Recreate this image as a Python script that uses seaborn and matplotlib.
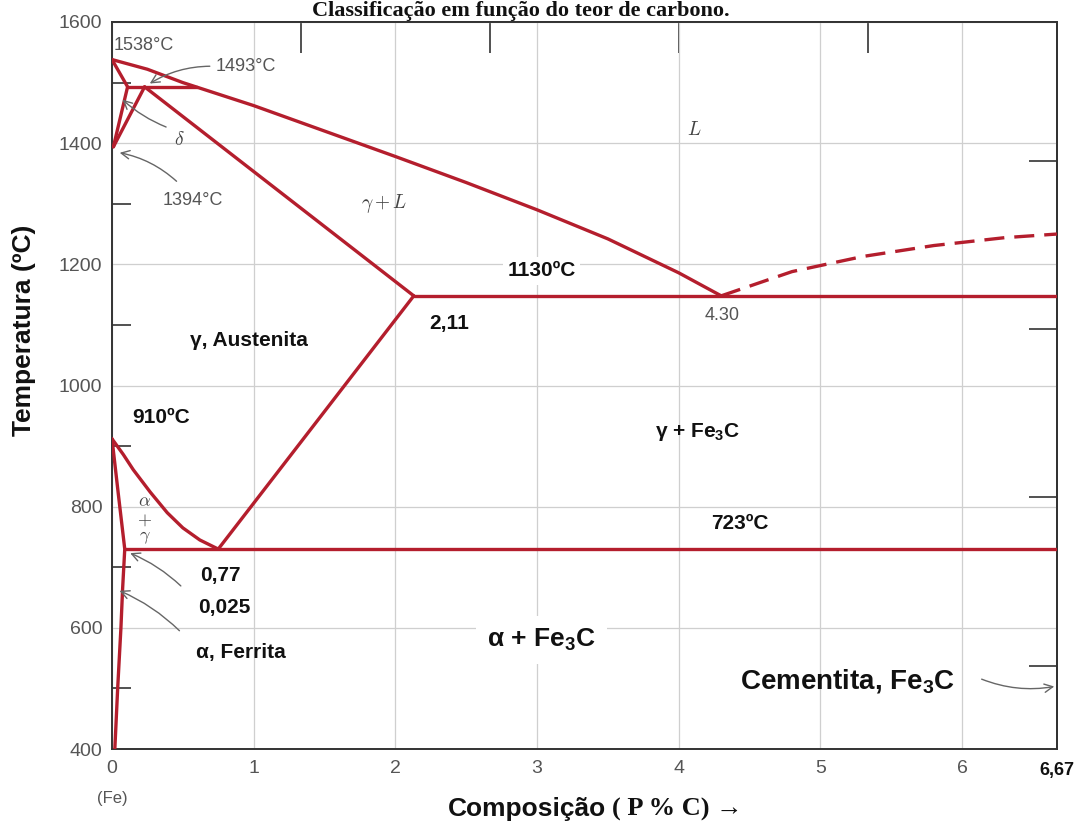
import numpy as np
import pandas as pd
import matplotlib
matplotlib.use('Agg')
import matplotlib.pyplot as plt
import seaborn as sns
from matplotlib.ticker import MultipleLocator
from matplotlib.transforms import blended_transform_factory

# linhas do diagrama Fe-C (% C em peso, temperatura ºC)
liquidus_x = [0.0, 0.25, 0.5, 1.0, 1.5, 2.0, 2.5, 3.0, 3.5, 4.0, 4.30]
liquidus_t = [1538, 1522, 1500, 1462, 1420, 1378, 1335, 1290, 1242, 1186, 1148]
delta_x = [0.0, 0.11, 0.01]
delta_t = [1538, 1493, 1394]
gama_delta_x = [0.23, 0.01]
gama_delta_t = [1493, 1394]
peritetica_x = [0.11, 0.60]
peritetica_t = [1493, 1493]
solidus_x = [0.23, 2.13]
solidus_t = [1493, 1148]
eutetica_x = [2.13, 6.67]
eutetica_t = [1148, 1148]
cementita_liq_x = [4.30, 4.8, 5.3, 5.8, 6.3, 6.67]
cementita_liq_t = [1148, 1188, 1213, 1231, 1244, 1250]
acm_x = [2.13, 0.75]
acm_t = [1148, 730]
a3_x = [0.0, 0.08, 0.15, 0.27, 0.39, 0.5, 0.62, 0.75]
a3_t = [912, 886, 861, 824, 790, 765, 745, 730]
eutetoide_x = [0.09, 6.67]
eutetoide_t = [730, 730]
ferrita_x = [0.0, 0.045, 0.09, 0.075, 0.063, 0.04, 0.02]
ferrita_t = [912, 820, 730, 665, 600, 500, 400]

x_ticks = [0, 1, 2, 3, 4, 5, 6]
y_ticks = [400, 600, 800, 1000, 1200, 1400, 1600]
fe3c_ticks = [20, 40, 60, 80]          # % Fe3C (eixo superior)
fahr_ticks = [1000, 1500, 2000, 2500]  # ºF (eixo direito)

vermelho = '#b41e2d'
cinza = '#555555'

sns.set_theme(style='white')
plt.rcParams['font.family'] = ['Liberation Sans', 'DejaVu Sans']
plt.rcParams['mathtext.fontset'] = 'custom'
plt.rcParams['mathtext.rm'] = 'Liberation Sans'
plt.rcParams['mathtext.bf'] = 'Liberation Sans:bold'

fig = plt.figure(figsize=(10.88, 8.23), dpi=100)
fig.patch.set_facecolor('white')
ax = fig.add_axes([112/1088, 74/823, 945/1088, 727/823])

curvas = [(liquidus_x, liquidus_t), (delta_x, delta_t), (gama_delta_x, gama_delta_t),
          (peritetica_x, peritetica_t), (solidus_x, solidus_t), (eutetica_x, eutetica_t),
          (acm_x, acm_t), (a3_x, a3_t), (eutetoide_x, eutetoide_t), (ferrita_x, ferrita_t)]
for cx, ct in curvas:
    sns.lineplot(x=cx, y=ct, ax=ax, color=vermelho, lw=2.4, sort=False, estimator=None, zorder=5)
sns.lineplot(x=cementita_liq_x, y=cementita_liq_t, ax=ax, color=vermelho, lw=2.4, sort=False,
             estimator=None, zorder=5, dashes=False, linestyle=(0, (6, 3)))

ax.set_xlim(0, 6.67)
ax.set_ylim(400, 1600)
ax.set_xticks(x_ticks)
ax.set_yticks(y_ticks)
ax.yaxis.set_minor_locator(MultipleLocator(100))
ax.grid(True, which='major', color='#cfcfcf', lw=0.9, zorder=0)
ax.tick_params(axis='both', which='major', direction='in', length=22, width=1.1, color='#222',
               labelcolor=cinza, labelsize=14)
ax.tick_params(axis='y', which='major', pad=7)
ax.tick_params(axis='x', which='major', pad=8)
ax.tick_params(axis='y', which='minor', direction='in', length=14, width=1.1, color='#222', left=True)
for s in ax.spines.values():
    s.set_color('#333333')
    s.set_linewidth(1.4)

sec_top = ax.secondary_xaxis('top', functions=(lambda x: x * 100 / 6.67, lambda p: p * 6.67 / 100))
sec_top.set_xticks(fe3c_ticks)
sec_top.set_xticklabels([])
sec_top.tick_params(direction='in', length=22, width=1.1, color='#222')
sec_right = ax.secondary_yaxis('right', functions=(lambda c: c * 9 / 5 + 32, lambda f: (f - 32) * 5 / 9))
sec_right.set_yticks(fahr_ticks)
sec_right.set_yticklabels([])
sec_right.tick_params(direction='in', length=20, width=1.1, color='#222')

ax.set_xlabel('')
ax.set_ylabel('Temperatura (ºC)', fontsize=19, fontweight='bold', color='#111')
ax.yaxis.set_label_coords(-0.093, 0.576)
ax.yaxis.label.set_va('center')

trans = blended_transform_factory(ax.transData, ax.transAxes)
ax.text(0, -0.058, '(Fe)', transform=trans, ha='center', va='top', fontsize=12, color=cinza)
ax.text(6.67, -0.018, '6,67', transform=trans, ha='center', va='top', fontsize=13,
        fontweight='bold', color='#111')

fig.text(448/1088, 1 - 816/823, 'Composição', fontsize=19, fontweight='bold', color='#111',
         va='baseline', ha='left')
fig.text(612/1088, 1 - 816/823, '( P % C) →', fontsize=19, fontweight='bold', color='#111',
         va='baseline', ha='left', family=['Liberation Serif', 'DejaVu Serif'])
fig.text(521/1088, 1 - 16/823, 'Classificação em função do teor de carbono.', fontsize=16,
         fontweight='bold', color='#111', ha='center', va='baseline',
         family=['Liberation Serif', 'DejaVu Serif'])

# textos cinza (temperaturas)
ax.text(0.01, 1562, '1538°C', fontsize=13, color=cinza, va='center')
ax.text(0.73, 1527, '1493°C', fontsize=13, color=cinza, va='center')
ax.text(0.36, 1306, '1394°C', fontsize=13, color=cinza, va='center')
ax.text(4.18, 1116, '4.30', fontsize=13, color=cinza, va='center')

# rótulos em itálico
ax.text(0.44, 1405, r'$\delta$', fontsize=14, color='#444', va='center', math_fontfamily='cm')
ax.text(1.76, 1301, r'$\gamma + L$', fontsize=14, color='#444', va='center', math_fontfamily='cm')
ax.text(4.06, 1422, r'$L$', fontsize=14, color='#444', va='center', math_fontfamily='cm')
for t, s in [(808, r'$\alpha$'), (778, r'$+$'), (749, r'$\gamma$')]:
    ax.text(0.23, t, s, fontsize=13, color='#444', va='center', ha='center', math_fontfamily='cm')

# rótulos em negrito
caixa = dict(facecolor='white', edgecolor='none', pad=3)
negrito = dict(fontweight='bold', color='#111', va='center', ha='left')
ax.text(2.79, 1189, '1130ºC', fontsize=15, bbox=caixa, **negrito)
ax.text(2.24, 1103, '2,11', fontsize=15, **negrito)
ax.text(0.55, 1075, 'γ, Austenita', fontsize=15, **negrito)
ax.text(0.14, 948, '910ºC', fontsize=15, **negrito)
ax.text(3.83, 923, r'γ + Fe$_\mathbf{3}$C', fontsize=15, **negrito)
ax.text(4.23, 773, '723ºC', fontsize=15, **negrito)
ax.text(0.62, 687, '0,77', fontsize=15, **negrito)
ax.text(0.61, 633, '0,025', fontsize=15, **negrito)
ax.text(0.59, 559, 'α, Ferrita', fontsize=15, **negrito)
ax.text(2.65, 580, r'α + Fe$_\mathbf{3}$C', fontsize=19, bbox=dict(facecolor='white', edgecolor='none', pad=8), **negrito)
ax.text(4.43, 511, r'Cementita, Fe$_\mathbf{3}$C', fontsize=20, **negrito)

# setas
seta = dict(arrowstyle='->,head_length=0.5,head_width=0.25', color='#666666', lw=1)
for (x0, t0), (x1, t1), rad in [((0.71, 1527), (0.25, 1496), 0.15),
                                ((0.40, 1425), (0.06, 1475), -0.1),
                                ((0.47, 1334), (0.035, 1385), 0.15),
                                ((0.50, 666), (0.11, 725), 0.1),
                                ((0.49, 592), (0.035, 663), 0.1),
                                ((6.12, 517), (6.67, 504), 0.15)]:
    ax.annotate('', xy=(x1, t1), xytext=(x0, t0),
                arrowprops=dict(connectionstyle=f'arc3,rad={rad}', **seta), zorder=6)

fig.savefig('out.png', dpi=100, facecolor='white')
